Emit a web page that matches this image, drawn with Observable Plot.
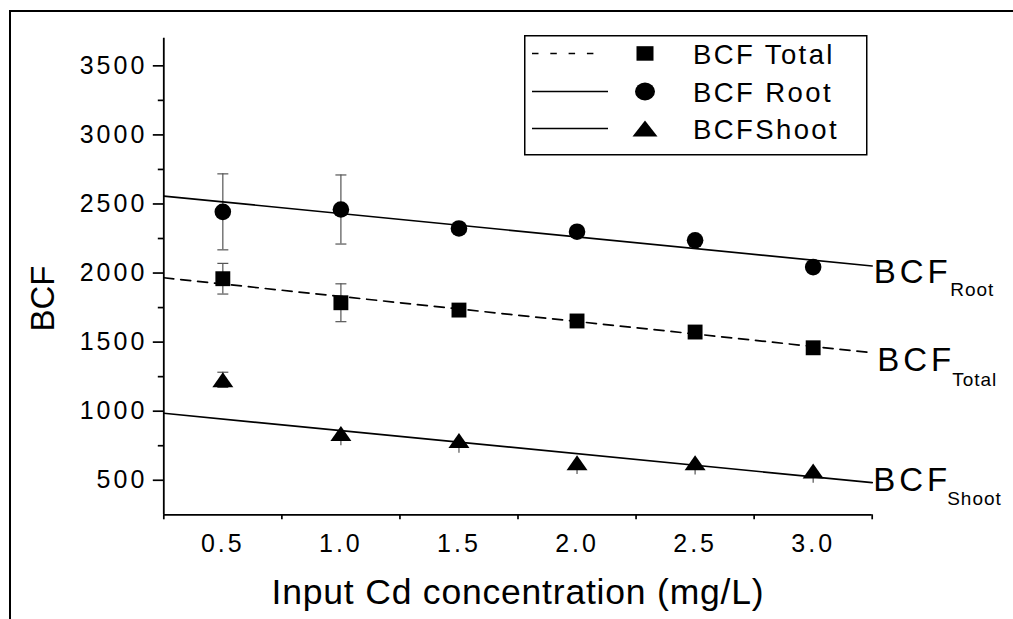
<!DOCTYPE html>
<html><head><meta charset="utf-8">
<script src="https://cdn.jsdelivr.net/npm/d3@7"></script>
<script src="https://cdn.jsdelivr.net/npm/@observablehq/plot@0.6"></script>
<style>
html,body{margin:0;padding:0;background:#fff;}
#wrap{position:relative;width:1013px;height:619px;overflow:hidden;font-family:"Liberation Sans",Arial,sans-serif;}
#frame{position:absolute;left:9px;top:10px;width:1100px;height:700px;border-top:2.2px solid #000;border-left:2.2px solid #000;}
#chart{position:absolute;left:0;top:0;}
#legend{position:absolute;left:524px;top:35px;}
</style></head><body>
<div id="wrap"><div id="frame"></div><div id="chart"></div><div id="legend"></div></div>
<script>
// ---- data ----
const conc = [0.5, 1.0, 1.5, 2.0, 2.5, 3.0];
const bcfTotal = [1959, 1785, 1732, 1653, 1573, 1459];
const bcfTotalErr = [111, 137, 15, 12, 12, 12];
const bcfRoot = [2443, 2460, 2323, 2299, 2237, 2043];
const bcfRootErr = [275, 250, 25, 20, 20, 20];
const bcfShoot = [1227, 839, 788, 627, 627, 567];
const bcfShootErrUp = [55, 30, 30, 30, 30, 30];
const bcfShootErrDown = [55, 90, 93, 85, 89, 89];
const fitX = [0.25, 3.25];
const fitTotal = [1966, 1423];
const fitRoot = [2557, 2051];
const fitShoot = [985, 483];
const seriesNames = ["BCF Total", "BCF Root", "BCFShoot"];
const endMain = "BCF";
const endSubs = ["Total", "Root", "Shoot"];
const xTicks = [0.5, 1.0, 1.5, 2.0, 2.5, 3.0];
const xMinorTicks = [0.25, 0.75, 1.25, 1.75, 2.25, 2.75, 3.25];
const yTicks = [500, 1000, 1500, 2000, 2500, 3000, 3500];
const yMinorTicks = [750, 1250, 1750, 2250, 2750, 3250];
const xDomain = [0.25, 3.25];
const yDomain = [250, 3700];
const xTitle = "Input Cd concentration (mg/L)";
const yTitle = "BCF";

// ---- build tables ----
const pts = [];
conc.forEach((c, i) => {
  pts.push({series: "Total", x: c, y: bcfTotal[i], lo: bcfTotal[i] - bcfTotalErr[i], hi: bcfTotal[i] + bcfTotalErr[i], cap: true});
  pts.push({series: "Root", x: c, y: bcfRoot[i], lo: bcfRoot[i] - bcfRootErr[i], hi: bcfRoot[i] + bcfRootErr[i], cap: true});
  pts.push({series: "Shoot", x: c, y: bcfShoot[i], lo: bcfShoot[i] - bcfShootErrDown[i], hi: bcfShoot[i] + bcfShootErrUp[i], cap: i === 0});
});
const fitLine = (arr) => fitX.map((x, i) => ({x, y: arr[i]}));

const triSym = {draw(ctx) { const w = 10.5, h = 7.5; ctx.moveTo(0, -h); ctx.lineTo(w, h); ctx.lineTo(-w, h); ctx.closePath(); }};
const capSym = {draw(ctx) { ctx.moveTo(-5.5, 0); ctx.lineTo(5.5, 0); }};
const font = "'Liberation Sans', Arial, sans-serif";
const errColor = "#555";

function endLabel(yEnd, sub, dx, dy, sdx, sdy) {
  const d = [{x: fitX[1], y: yEnd}];
  return [
    Plot.text(d, {x: "x", y: "y", text: () => endMain, dx, dy, textAnchor: "start", lineAnchor: "bottom", fontSize: 33, fill: "#000"}),
    Plot.text(d, {x: "x", y: "y", text: () => sub, dx: sdx, dy: sdy, textAnchor: "start", lineAnchor: "bottom", fontSize: 19, fill: "#000"})
  ];
}

const chart = Plot.plot({
  width: 1013, height: 619,
  marginLeft: 163.3, marginRight: 141.3, marginTop: 37.7, marginBottom: 104.7,
  style: {fontFamily: font, background: "transparent", overflow: "visible", color: "#000"},
  x: {domain: xDomain},
  y: {domain: yDomain},
  marks: [
    // axes
    Plot.axisY(yTicks, {tickSize: 10.5, tickPadding: 6, fontSize: 25, label: null, strokeWidth: 1.7, tickFormat: d3.format("d")}),
    Plot.axisY(yMinorTicks, {tickSize: 5.5, tickFormat: null, text: null, label: null, strokeWidth: 1.7}),
    Plot.axisX(xTicks, {tickSize: 0, tickPadding: 19.5, fontSize: 25, label: null, tickFormat: d3.format(".1f")}),
    Plot.axisX(xMinorTicks, {tickSize: 5, tickFormat: null, text: null, label: null, strokeWidth: 1.7}),
    Plot.ruleX([xDomain[0]], {stroke: "#000", strokeWidth: 1.8}),
    Plot.ruleY([yDomain[0]], {stroke: "#000", strokeWidth: 1.8}),
    Plot.text([yTitle], {frameAnchor: "left", rotate: -90, textAnchor: "middle", lineAnchor: "bottom", dx: -110, dy: 22, fontSize: 33, fill: "#000"}),
    Plot.text([xTitle], {frameAnchor: "bottom", textAnchor: "middle", lineAnchor: "bottom", dy: 89, fontSize: 35.5, fill: "#000"}),
    // error bars
    Plot.ruleX(pts, {x: "x", y1: "lo", y2: "hi", stroke: errColor, strokeWidth: 1.2}),
    Plot.dot(pts.filter(d => d.cap), {x: "x", y: "lo", symbol: capSym, stroke: errColor, fill: "none", strokeWidth: 1.2}),
    Plot.dot(pts.filter(d => d.cap), {x: "x", y: "hi", symbol: capSym, stroke: errColor, fill: "none", strokeWidth: 1.2}),
    // fitted lines
    Plot.line(fitLine(fitRoot), {x: "x", y: "y", stroke: "#000", strokeWidth: 1.7}),
    Plot.line(fitLine(fitTotal), {x: "x", y: "y", stroke: "#000", strokeWidth: 1.7, strokeDasharray: "10,7"}),
    Plot.line(fitLine(fitShoot), {x: "x", y: "y", stroke: "#000", strokeWidth: 1.7}),
    // points
    Plot.dot(pts.filter(d => d.series === "Total"), {x: "x", y: "y", symbol: "square", r: 8.4, fill: "#000", stroke: "none"}),
    Plot.dot(pts.filter(d => d.series === "Root"), {x: "x", y: "y", symbol: "circle", r: 8.3, fill: "#000", stroke: "none"}),
    Plot.dot(pts.filter(d => d.series === "Shoot"), {x: "x", y: "y", symbol: triSym, fill: "#000", stroke: "none"}),
    // end labels
    ...endLabel(fitRoot[1], endSubs[1], 1.5, 16.5, 78, 30),
    ...endLabel(fitTotal[1], endSubs[0], 5, 18, 80, 33),
    ...endLabel(fitShoot[1], endSubs[2], 1, 8.5, 75, 22)
  ]
});
document.getElementById("chart").appendChild(chart);
const svg = d3.select(chart);
// tick label styling
svg.selectAll('g[aria-label="y-axis tick label"] text, g[aria-label="x-axis tick label"] text')
  .style("font-size", "25px").style("letter-spacing", "3px");
svg.selectAll("text").each(function() {
  const t = this.textContent;
  if (t === xTitle) d3.select(this).style("letter-spacing", "0.8px");
  if (t === endMain && !this.closest('g[transform*="rotate"]') && !(this.getAttribute("transform") || "").includes("rotate")) d3.select(this).style("letter-spacing", "4px");
  if (endSubs.includes(t)) d3.select(this).style("letter-spacing", "1px");
});

// ---- legend ----
const lg = d3.select("#legend").append("svg").attr("width", 344).attr("height", 121);
lg.append("rect").attr("x", 0.75).attr("y", 0.75).attr("width", 342).attr("height", 119).attr("fill", "#fff").attr("stroke", "#000").attr("stroke-width", 1.5);
const rowsY = [18.5, 56.5, 93.5];
seriesNames.forEach((name, i) => {
  const g = lg.append("g").attr("transform", `translate(0,${rowsY[i]})`);
  if (i === 0) g.append("line").attr("x1", 8).attr("x2", 73).attr("stroke", "#000").attr("stroke-width", 1.3).attr("stroke-dasharray", "6.5,11.8");
  else g.append("line").attr("x1", 8).attr("x2", 84).attr("stroke", "#000").attr("stroke-width", 1.3);
  if (i === 0) g.append("rect").attr("x", 121 - 8.5).attr("y", -7.3).attr("width", 17).attr("height", 14.5).attr("fill", "#000");
  else if (i === 1) g.append("ellipse").attr("cx", 121).attr("cy", 0).attr("rx", 10).attr("ry", 9).attr("fill", "#000");
  else g.append("path").attr("d", "M121,-8L133.5,8L108.5,8Z").attr("fill", "#000");
  g.append("text").attr("x", 169).attr("y", 10).attr("font-size", 27.5).attr("letter-spacing", "2.4px").attr("font-family", font).attr("fill", "#000").text(name);
});
</script></body></html>
